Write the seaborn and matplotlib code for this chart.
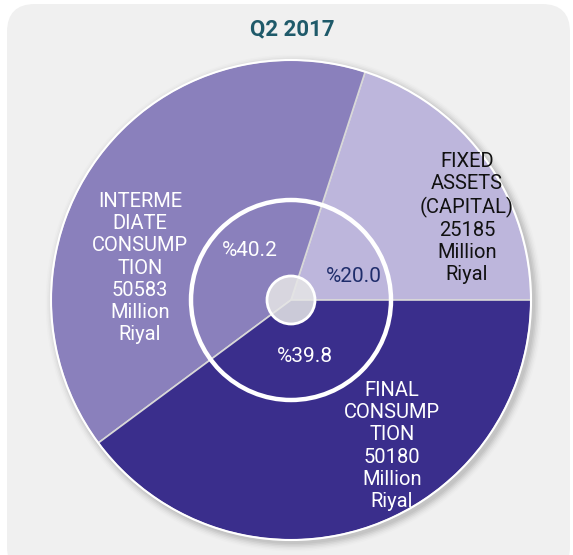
import matplotlib.pyplot as plt
import numpy as np
import seaborn as sns
from matplotlib.patches import Circle, FancyBboxPatch

# data
categories = ["FIXED\nASSETS\n(CAPITAL)", "INTERME\nDIATE\nCONSUMP\nTION", "FINAL\nCONSUMP\nTION"]
values = [25185, 50583, 50180]
unit = "Million\nRiyal"
title = "Q2 2017"

colors = ["#BDB6DC", "#8A80BC", "#3A2E8C"]
name_colors = ["#111111", "white", "white"]
pct_colors = ["#1F2D6B", "white", "white"]

sns.set_theme(style="white")
plt.rcParams["font.family"] = ["Roboto", "DejaVu Sans"]

W, H = 573, 555
fig = plt.figure(figsize=(W / 100, H / 100), dpi=100)
ax = fig.add_axes([0, 0, 1, 1])

cx, cy, r = 291, H - 300, 240

wedges, _ = ax.pie(values, colors=colors, startangle=0, counterclock=True, center=(cx, cy),
                   radius=r, wedgeprops=dict(edgecolor="#D8D8D8", linewidth=1.2))
for w in wedges:
    w.set_zorder(2)

ax.set_xlim(0, W)
ax.set_ylim(0, H)
ax.set_aspect("equal")
ax.axis("off")

# light gray card behind the chart
card = FancyBboxPatch((7, -20), W - 10, H + 16, boxstyle="round,pad=0,rounding_size=28",
                      facecolor="#F0F0F0", edgecolor="none", zorder=0)
ax.add_patch(card)

# soft shadow
for i, a in enumerate(np.linspace(0.05, 0.01, 6)):
    ax.add_patch(Circle((cx + 3, cy - 3), r + 1 + i * 1.5, facecolor="black", alpha=a,
                        edgecolor="none", zorder=1))

ax.add_patch(Circle((cx, cy), r, facecolor="none", edgecolor="white", linewidth=1.5, zorder=3))

# inner white ring and centre cap
ax.add_patch(Circle((cx, cy), 100, facecolor="none", edgecolor="white", linewidth=3.2, zorder=4))
ax.add_patch(Circle((cx, cy), 24, facecolor="#E6E6E6", alpha=0.85, edgecolor="none", zorder=5))
ax.add_patch(Circle((cx, cy), 24, facecolor="none", edgecolor="white", linewidth=2, zorder=5))

total = sum(values)
pct_pos = [(354, 277), (250, 250), (305, 357)]
name_pos = [(467, 218), (140, 268), (392, 446)]
for i, (cat, v) in enumerate(zip(categories, values)):
    pct = 100 * v / total
    px, py = pct_pos[i]
    ax.text(px, H - py, f"%{pct:.1f}", ha="center", va="center", fontsize=15,
            color=pct_colors[i], zorder=6)
    nx, ny = name_pos[i]
    ax.text(nx, H - ny, f"{cat}\n{v}\n{unit}", ha="center", va="center", fontsize=14.5,
            color=name_colors[i], linespacing=1.22, zorder=6)

ax.text(292, H - 29, title, ha="center", va="center", fontsize=16, fontweight="bold",
        color="#1F5A6A", zorder=6)

fig.savefig("out.png", dpi=100, facecolor="white")
